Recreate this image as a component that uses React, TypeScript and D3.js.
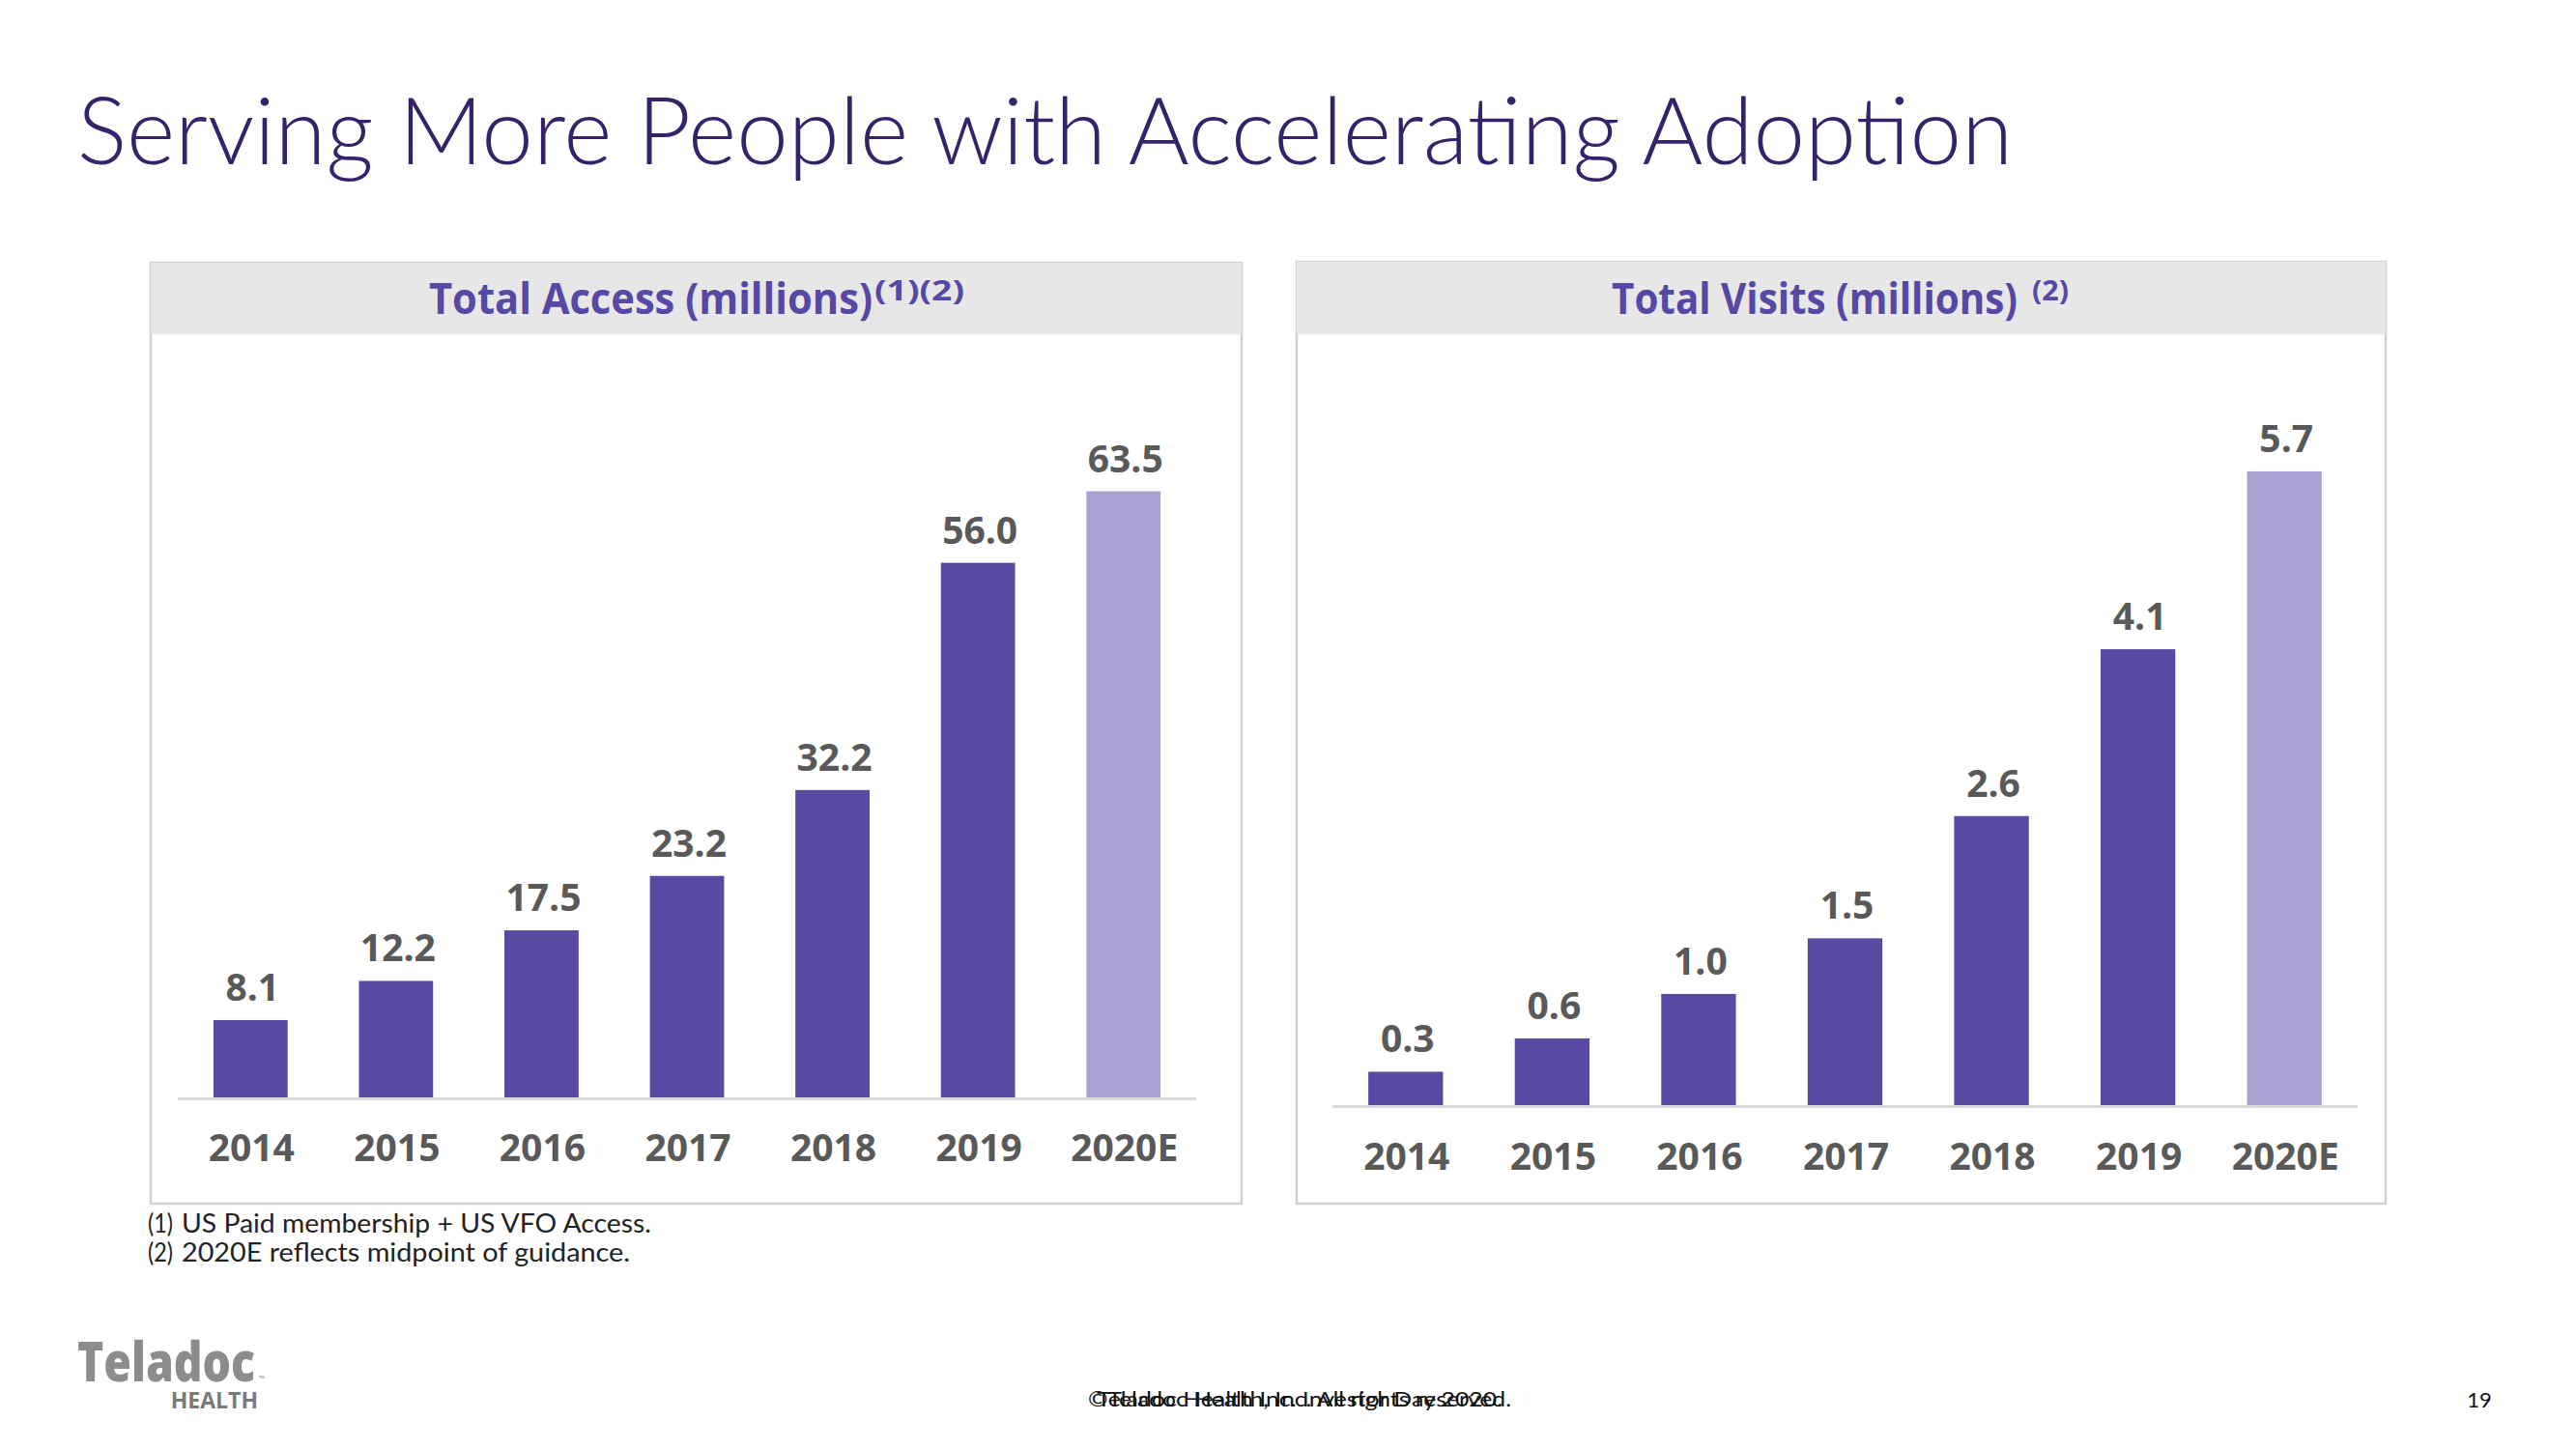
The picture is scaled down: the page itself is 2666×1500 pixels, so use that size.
import React from "react";
import * as d3 from "d3";

const categories = ["2014", "2015", "2016", "2017", "2018", "2019", "2020E"];
const accessValues = [8.1, 12.2, 17.5, 23.2, 32.2, 56.0, 63.5];
const visitsValues = [0.3, 0.6, 1.0, 1.5, 2.6, 4.1, 5.7];
const estimateCategory = "2020E";
const accessLabels = ["8.1", "12.2", "17.5", "23.2", "32.2", "56.0", "63.5"];
const visitsLabels = ["0.3", "0.6", "1.0", "1.5", "2.6", "4.1", "5.7"];
const footnoteMarks = ["(1)", "(2)"];
const footnoteTexts = [
  "US Paid membership + US VFO Access.",
  "2020E reflects midpoint of guidance.",
];
const footnoteWidths = [486, 464];

const W = 2666;
const H = 1500;
const DARK = "#574aa3";
const LIGHT = "#a9a2d2";
const LABEL = "#595959";
const HEAD = "#5748a6";
const FONT = "'Open Sans', 'Noto Sans', sans-serif";
const LIGHTFONT = "Lato, 'Open Sans', sans-serif";

type PanelProps = {
  x0: number;
  x1: number;
  top: number;
  bottom: number;
  headBottom: number;
  title: string;
  titleX: number;
  titleW: number;
  sup: string;
  supX: number;
  supW: number;
  values: number[];
  labels: string[];
  axisX0: number;
  axisX1: number;
  baseY: number;
  yMax: number;
  yTop: number;
  xLabelY: number;
};

function Panel(p: PanelProps) {
  const x = d3
    .scaleBand<string>()
    .domain(categories)
    .range([p.axisX0, p.axisX1])
    .paddingInner(0.49)
    .paddingOuter(0.245);
  const y = d3.scaleLinear().domain([0, p.yMax]).range([p.baseY, p.yTop]);
  return (
    <g>
      <rect
        x={p.x0}
        y={p.top}
        width={p.x1 - p.x0}
        height={p.bottom - p.top}
        fill="#ffffff"
        stroke="#d2d2d2"
        strokeWidth={2.5}
      />
      <rect
        x={p.x0}
        y={p.top}
        width={p.x1 - p.x0}
        height={p.headBottom - p.top}
        fill="#e7e7e8"
      />
      <text
        x={p.titleX}
        y={325}
        fontFamily={FONT}
        fontWeight={700}
        fontSize={44}
        fill={HEAD}
        textLength={p.titleW}
        lengthAdjust="spacingAndGlyphs"
      >
        {p.title}
      </text>
      <text
        x={p.supX}
        y={311}
        fontFamily={FONT}
        fontWeight={700}
        fontSize={28}
        fill={HEAD}
        textLength={p.supW}
        lengthAdjust="spacingAndGlyphs"
      >
        {p.sup}
      </text>
      {categories.map((c, i) => (
        <rect
          key={c}
          x={x(c)}
          y={y(p.values[i])}
          width={x.bandwidth()}
          height={p.baseY - y(p.values[i])}
          fill={c === estimateCategory ? LIGHT : DARK}
        />
      ))}
      <line
        x1={p.axisX0}
        x2={p.axisX1}
        y1={p.baseY + 1.5}
        y2={p.baseY + 1.5}
        stroke="#d9d9d9"
        strokeWidth={3}
      />
      {categories.map((c, i) => (
        <text
          key={"v" + c}
          x={(x(c) as number) + x.bandwidth() / 2 + 2}
          y={y(p.values[i]) - 20}
          textAnchor="middle"
          fontFamily={FONT}
          fontWeight={700}
          fontSize={39}
          fill={LABEL}
        >
          {p.labels[i]}
        </text>
      ))}
      {categories.map((c) => (
        <text
          key={"x" + c}
          x={(x(c) as number) + x.bandwidth() / 2 + 1}
          y={p.xLabelY}
          textAnchor="middle"
          fontFamily={FONT}
          fontWeight={700}
          fontSize={39}
          fill={LABEL}
        >
          {c}
        </text>
      ))}
    </g>
  );
}

export default function App() {
  return (
    <svg
      width={W}
      height={H}
      viewBox={`0 0 ${W} ${H}`}
      style={{ position: "absolute", left: 0, top: 0, background: "#fff" }}
    >
      <rect x={0} y={0} width={W} height={H} fill="#ffffff" />
      <text
        x={80}
        y={170}
        fontFamily={LIGHTFONT}
        fontWeight={300}
        fontSize={97}
        fill="#35226b"
        textLength={2003}
        lengthAdjust="spacingAndGlyphs"
      >
        Serving More People with Accelerating Adoption
      </text>

      <Panel
        x0={156}
        x1={1285}
        top={272}
        bottom={1246}
        headBottom={346}
        title="Total Access (millions)"
        titleX={444}
        titleW={459}
        sup="(1)(2)"
        supX={905}
        supW={93}
        values={accessValues}
        labels={accessLabels}
        axisX0={184}
        axisX1={1238}
        baseY={1136}
        yMax={70}
        yTop={444.3}
        xLabelY={1202}
      />
      <Panel
        x0={1342}
        x1={2469}
        top={271}
        bottom={1246}
        headBottom={346}
        title="Total Visits (millions)"
        titleX={1668}
        titleW={420}
        sup="(2)"
        supX={2103}
        supW={38}
        values={visitsValues}
        labels={visitsLabels}
        axisX0={1379}
        axisX1={2440}
        baseY={1144}
        yMax={6}
        yTop={453.4}
        xLabelY={1211}
      />

      {footnoteMarks.map((m, i) => (
        <g key={m}>
          <text
            x={153}
            y={1276 + i * 30}
            fontFamily={LIGHTFONT}
            fontSize={26}
            fill="#222"
            textLength={26}
            lengthAdjust="spacingAndGlyphs"
          >
            {m}
          </text>
          <text
            x={188}
            y={1276 + i * 30}
            fontFamily={LIGHTFONT}
            fontSize={26}
            fill="#222"
            textLength={footnoteWidths[i]}
            lengthAdjust="spacingAndGlyphs"
          >
            {footnoteTexts[i]}
          </text>
        </g>
      ))}

      <text
        x={80}
        y={1430}
        fontFamily={FONT}
        fontWeight={800}
        fontSize={56}
        fill="#8c8c8c"
        textLength={184}
        lengthAdjust="spacingAndGlyphs"
      >
        Teladoc
      </text>
      <text x={268} y={1430} fontFamily={FONT} fontSize={8} fill="#8c8c8c">
        ™
      </text>
      <text
        x={267}
        y={1458}
        textAnchor="end"
        fontFamily={FONT}
        fontWeight={700}
        fontSize={23}
        fill="#7a7a7a"
      >
        HEALTH
      </text>

      <text
        x={1345}
        y={1456}
        textAnchor="middle"
        fontFamily={LIGHTFONT}
        fontSize={21}
        fill="#111"
        textLength={438}
        lengthAdjust="spacingAndGlyphs"
      >
        ©Teladoc Health, Inc. All rights reserved.
      </text>
      <text
        x={1345}
        y={1456}
        textAnchor="middle"
        fontFamily={LIGHTFONT}
        fontSize={21}
        fill="#111"
        textLength={420}
        lengthAdjust="spacingAndGlyphs"
      >
        Teladoc Health Inc. Investor Day 2020.
      </text>
      <text
        x={2566}
        y={1457}
        textAnchor="middle"
        fontFamily={LIGHTFONT}
        fontSize={22}
        fill="#111"
      >
        19
      </text>
    </svg>
  );
}
